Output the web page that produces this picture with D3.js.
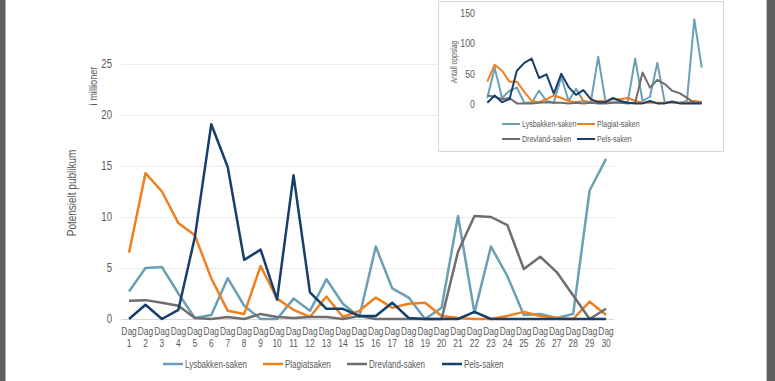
<!DOCTYPE html>
<html><head><meta charset="utf-8">
<script src="https://cdn.jsdelivr.net/npm/d3@7"></script>
<style>
html,body{margin:0;padding:0;background:#fff;}
svg{display:block;}
text{font-family:"Liberation Sans",Arial,sans-serif;fill:#595959;}
</style></head>
<body>
<svg id="c" width="775" height="381"></svg>
<script>
const days = d3.range(1, 31).map(d => "Dag " + d);
const seriesNames = ["Lysbakken-saken", "Plagiatsaken", "Drevland-saken", "Pels-saken"];
const insetNames = ["Lysbakken-saken", "Plagiat-saken", "Drevland-saken", "Pels-saken"];
const colors = ["#6a9fb5", "#f07f1e", "#6e6e6e", "#163f6b"];
const yTicks = [0, 5, 10, 15, 20, 25];
const insetTicks = [0, 50, 100, 150];

// Potensielt publikum (millioner)
const lysbakken = [2.7,5.0,5.1,2.5,0.1,0.4,4.0,1.3,0,0,2.0,0.8,3.9,1.5,0.2,7.1,3.0,2.1,0,1.1,10.1,0.6,7.1,4.2,0.4,0.5,0.1,0.5,12.6,15.7];
const plagiat   = [6.5,14.3,12.5,9.4,8.2,4.0,0.8,0.5,5.2,2.0,0.9,0.2,2.2,0.2,0.8,2.1,1.1,1.5,1.6,0.3,0.1,0,0,0.3,0.7,0.3,0.1,0,1.7,0.4];
const drevland  = [1.8,1.85,1.6,1.3,0.1,0,0.2,0,0.5,0.2,0.1,0.2,0.2,0,0.3,0,0,0,0,0,6.6,10.1,10.0,9.2,4.9,6.1,4.6,2.3,0,1.0];
const pels      = [0,1.4,0,0.9,8.0,19.1,14.9,5.8,6.8,1.9,14.1,2.6,1.0,1.0,0.3,0.3,1.6,0.1,0,0,0,0.7,0,0,0,0,0,0,0,0];

// Antall oppslag (inset)
const lysbakkenN = [10,60,10,22,27,2,2,22,5,2,45,5,25,5,3,78,3,3,3,3,75,5,12,68,3,2,2,5,140,60];
const plagiatN   = [37,65,55,37,37,20,5,3,8,14,10,5,3,5,3,5,5,8,8,10,5,2,2,2,2,3,2,2,5,3];
const drevlandN  = [14,12,8,10,1,1,1,2,3,2,2,1,2,1,2,1,1,2,2,1,2,52,27,40,33,22,18,10,2,3];
const pelsN      = [2,14,3,8,55,68,75,43,49,17,50,28,15,23,8,3,3,10,5,2,1,1,5,1,1,4,1,1,1,1];

const main = [lysbakken, plagiat, drevland, pels];
const inset = [lysbakkenN, plagiatN, drevlandN, pelsN];

const SX = 0.8; // horizontal condensing to mimic a narrow font
function nt(sel, x, y, str, size, anchor, rot) {
  return sel.append("text")
    .attr("transform", `translate(${x},${y})${rot ? " rotate(-90)" : ""} scale(${SX},1)`)
    .attr("text-anchor", anchor || "start")
    .attr("dy", "0.35em")
    .style("font-size", size + "px")
    .text(str);
}

const svg = d3.select("#c");

// side borders
svg.append("rect").attr("x",0).attr("y",0).attr("width",5).attr("height",381).attr("fill","#5e5e5e");
svg.append("rect").attr("x",5).attr("y",0).attr("width",1).attr("height",381).attr("fill","#a8a8a8");
svg.append("rect").attr("x",767).attr("y",0).attr("width",8).attr("height",381).attr("fill","#5e5e5e");
svg.append("rect").attr("x",766).attr("y",0).attr("width",1).attr("height",381).attr("fill","#bdbdbd");

// ---- main chart ----
const x = d3.scalePoint().domain(days).range([120.8, 614.3]).padding(0.5);
const y = d3.scaleLinear().domain([0, 25]).range([319, 64]);

const g = svg.append("g");
g.selectAll("line.grid").data(yTicks).join("line")
  .attr("x1", 121).attr("x2", 614).attr("y1", d => y(d)+0.5).attr("y2", d => y(d)+0.5)
  .attr("stroke", d => d === 0 ? "#d9d9d9" : "#ececec").attr("stroke-width", 1);

yTicks.forEach(t => nt(g, 112, y(t), t, 12, "end"));

days.forEach(d => {
  const [a, b] = d.split(" ");
  nt(g, x(d), 331, a, 10.5, "middle");
  nt(g, x(d), 343, b, 10.5, "middle");
});

nt(g, 72, 193, "Potensielt publikum", 12.5, "middle", true);
nt(g, 93, 86, "i millioner", 11.5, "middle", true);

const line = d3.line().x((d, i) => x(days[i])).y(d => y(d));
main.forEach((s, k) => {
  g.append("path").datum(s).attr("d", line).attr("fill", "none")
    .attr("stroke", colors[k]).attr("stroke-width", 2.5).attr("stroke-linejoin", "round");
});

// main legend
const legX = [163, 263, 347, 442];
seriesNames.forEach((n, k) => {
  g.append("line").attr("x1", legX[k]).attr("x2", legX[k] + 20).attr("y1", 364).attr("y2", 364)
    .attr("stroke", colors[k]).attr("stroke-width", 2.5);
  nt(g, legX[k] + 22, 364, n, 10, "start");
});

// ---- inset chart ----
const ig = svg.append("g");
ig.append("rect").attr("x", 438.5).attr("y", 1.5).attr("width", 285).attr("height", 150)
  .attr("fill", "#fff").attr("stroke", "#d6d6d6").attr("stroke-width", 1);
const xi = d3.scalePoint().domain(days).range([483.6, 705.4]).padding(0.5);
const yi = d3.scaleLinear().domain([0, 150]).range([104, 13.3]);
insetTicks.forEach(t => nt(ig, 475, yi(t), t, 11, "end"));
nt(ig, 454, 62, "Antall oppslag", 8.5, "middle", true);
const iline = d3.line().x((d, i) => xi(days[i])).y(d => yi(d));
inset.forEach((s, k) => {
  ig.append("path").datum(s).attr("d", iline).attr("fill", "none")
    .attr("stroke", colors[k]).attr("stroke-width", 2).attr("stroke-linejoin", "round");
});
const ilx = [502, 577, 502, 577], ily = [124, 124, 139, 139];
insetNames.forEach((n, k) => {
  ig.append("line").attr("x1", ilx[k]).attr("x2", ilx[k] + 18).attr("y1", ily[k]).attr("y2", ily[k])
    .attr("stroke", colors[k]).attr("stroke-width", 2);
  nt(ig, ilx[k] + 20, ily[k], n, 8.8, "start");
});
</script>
</body></html>
